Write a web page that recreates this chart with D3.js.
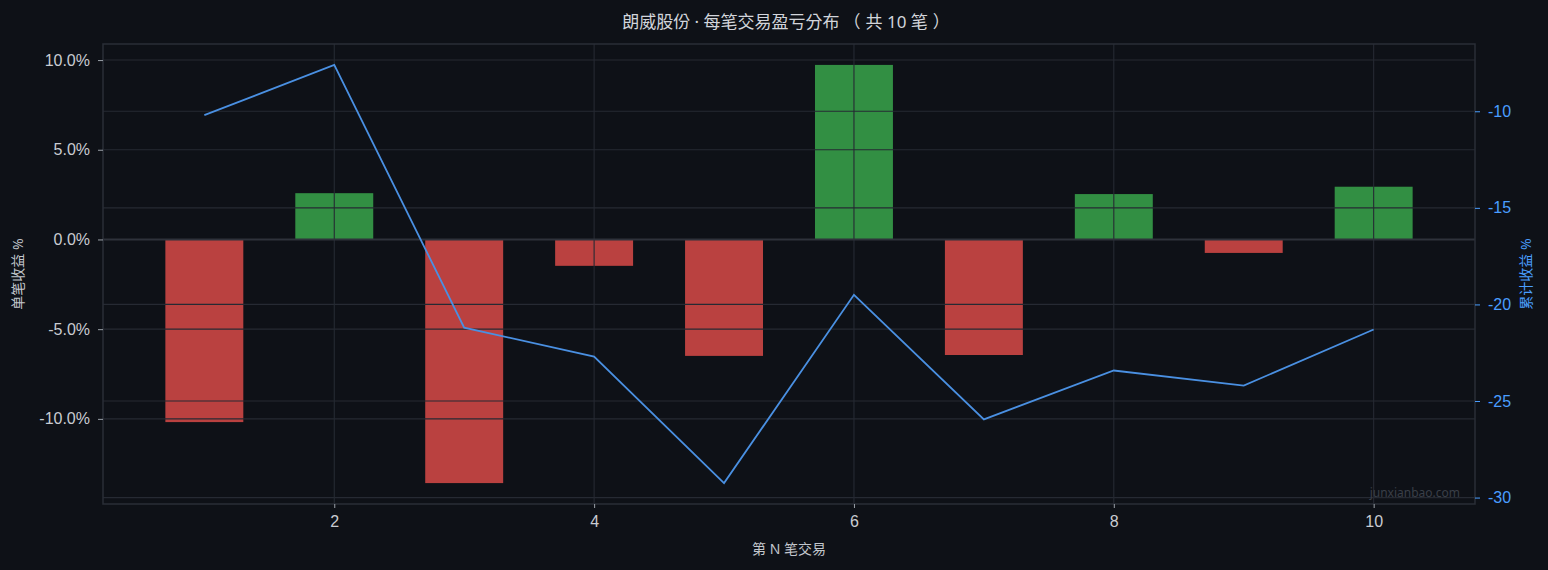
<!DOCTYPE html>
<html><head><meta charset="utf-8">
<script src="https://cdn.jsdelivr.net/npm/d3@7/dist/d3.min.js"></script>
<style>
html,body{margin:0;padding:0;background:#0e1117;}
svg{display:block;font-family:"Noto Sans","Noto Sans CJK SC",sans-serif;}
.title{font-family:"Noto Sans","Noto Sans CJK TC",sans-serif;text-spacing-trim:space-all;font-kerning:none;
  font-feature-settings:"halt" 0,"chws" 0,"palt" 0,"vchw" 0;}
</style></head><body>
<svg id="c" width="1548" height="570"></svg>
<script>
const trades = [1,2,3,4,5,6,7,8,9,10];
const tradeReturns = [-10.18, 2.58, -13.58, -1.47, -6.49, 9.73, -6.44, 2.53, -0.75, 2.94];
const cumReturns = [-10.2, -7.6, -21.2, -22.7, -29.25, -19.5, -25.95, -23.42, -24.2, -21.3];
const xTicks = [2,4,6,8,10];
const leftTicks = [-10,-5,0,5,10];
const rightTicks = [-30,-25,-20,-15,-10];
const titleParts = ["朗威股份 · 每笔交易盈亏分布", "（", "共 10 笔", "）"];
const xLabel = "第 N 笔交易";
const leftLabel = "单笔收益 %";
const rightLabel = "累计收益 %";
const watermark = "junxianbao.com";

const W=1548,H=570;
const m={l:103,r:1475,t:44,b:504};
const svg=d3.select("#c");
svg.append("rect").attr("width",W).attr("height",H).attr("fill","#0e1117");

const bw=0.6;
const xmin=d3.min(trades)-bw/2, xmax=d3.max(trades)+bw/2, xp=(xmax-xmin)*0.05;
const x=d3.scaleLinear().domain([xmin-xp,xmax+xp]).range([m.l,m.r]);
const lmin=Math.min(0,d3.min(tradeReturns)), lmax=Math.max(0,d3.max(tradeReturns)), lp=(lmax-lmin)*0.05;
const yL=d3.scaleLinear().domain([lmin-lp,lmax+lp]).range([m.b,m.t]);
const rmin=d3.min(cumReturns), rmax=d3.max(cumReturns), rp=(rmax-rmin)*0.05;
const yR=d3.scaleLinear().domain([rmin-rp,rmax+rp]).range([m.b,m.t]);

const gridC="#262a33";
const hy=s=>s.replace("\u2212","-");
// bars
svg.append("g").selectAll("rect").data(trades).join("rect")
  .attr("x",(d)=>x(d-bw/2))
  .attr("width",(d)=>x(d+bw/2)-x(d-bw/2))
  .attr("y",(d,i)=>yL(Math.max(0,tradeReturns[i])))
  .attr("height",(d,i)=>Math.abs(yL(tradeReturns[i])-yL(0)))
  .attr("fill",(d,i)=>tradeReturns[i]>=0?"#328f43":"#ba4140");

// grids
const g=svg.append("g").attr("stroke",gridC).attr("stroke-width",1.1);
g.selectAll(".gl").data(leftTicks).join("line").attr("x1",m.l).attr("x2",m.r)
  .attr("y1",d=>yL(d)).attr("y2",d=>yL(d));
g.selectAll(".gr").data(rightTicks).join("line").attr("x1",m.l).attr("x2",m.r)
  .attr("y1",d=>yR(d)).attr("y2",d=>yR(d));
g.selectAll(".gx").data(xTicks).join("line").attr("y1",m.t).attr("y2",m.b)
  .attr("x1",d=>x(d)).attr("x2",d=>x(d));
// zero line
svg.append("line").attr("x1",m.l).attr("x2",m.r).attr("y1",yL(0)).attr("y2",yL(0))
  .attr("stroke","#2e323b").attr("stroke-width",2);

// cumulative line
svg.append("path").datum(trades)
  .attr("d",d3.line().x(d=>x(d)).y((d,i)=>yR(cumReturns[i])))
  .attr("fill","none").attr("stroke","#4a90e2").attr("stroke-width",1.8);

// frame
svg.append("rect").attr("x",m.l).attr("y",m.t).attr("width",m.r-m.l).attr("height",m.b-m.t)
  .attr("fill","none").attr("stroke","#2a2e37").attr("stroke-width",1.5);

// axes
function styleAxis(sel,color,tc){
  sel.select(".domain").remove();
  sel.selectAll(".tick line").attr("stroke",tc);
  sel.selectAll(".tick text").attr("fill",color).style("font-size","16px");
}
const ax=svg.append("g").attr("transform",`translate(0,${m.b})`)
  .call(d3.axisBottom(x).tickValues(xTicks).tickSize(4).tickPadding(8).tickFormat(d3.format("d")));
styleAxis(ax,"#c9ccd2","#9aa0a8");
const al=svg.append("g").attr("transform",`translate(${m.l},0)`)
  .call(d3.axisLeft(yL).tickValues(leftTicks).tickSize(5).tickPadding(8).tickFormat(d=>hy(d3.format(".1f")(d))+"%"));
styleAxis(al,"#c9ccd2","#9aa0a8");
const ar=svg.append("g").attr("transform",`translate(${m.r},0)`)
  .call(d3.axisRight(yR).tickValues(rightTicks).tickSize(5).tickPadding(8).tickFormat(d=>hy(d3.format("d")(d))));
styleAxis(ar,"#4a9eff","#4a9eff");

// title
const tt=svg.append("text").attr("class","title").attr("x",(m.l+m.r)/2-3).attr("y",27.5).attr("text-anchor","middle")
  .attr("fill","#d2d5db").style("font-size","17px");
const gaps=[0,4,5,5];
tt.selectAll("tspan").data(titleParts).join("tspan").attr("dx",(d,i)=>gaps[i]).text(d=>d);

svg.append("text").attr("x",(m.l+m.r)/2).attr("y",554).attr("text-anchor","middle")
  .attr("fill","#c2c6cc").style("font-size","14px").text(xLabel);
svg.append("text").attr("transform",`translate(23,${(m.t+m.b)/2}) rotate(-90)`).attr("text-anchor","middle")
  .attr("fill","#c2c6cc").style("font-size","14px").text(leftLabel);
svg.append("text").attr("transform",`translate(1531,${(m.t+m.b)/2}) rotate(-90)`).attr("text-anchor","middle")
  .attr("fill","#4a9eff").style("font-size","14px").text(rightLabel);
svg.append("text").attr("x",m.r-15).attr("y",497).attr("text-anchor","end")
  .attr("fill","#3a3f48").style("font-size","12px").text(watermark);
</script></body></html>
